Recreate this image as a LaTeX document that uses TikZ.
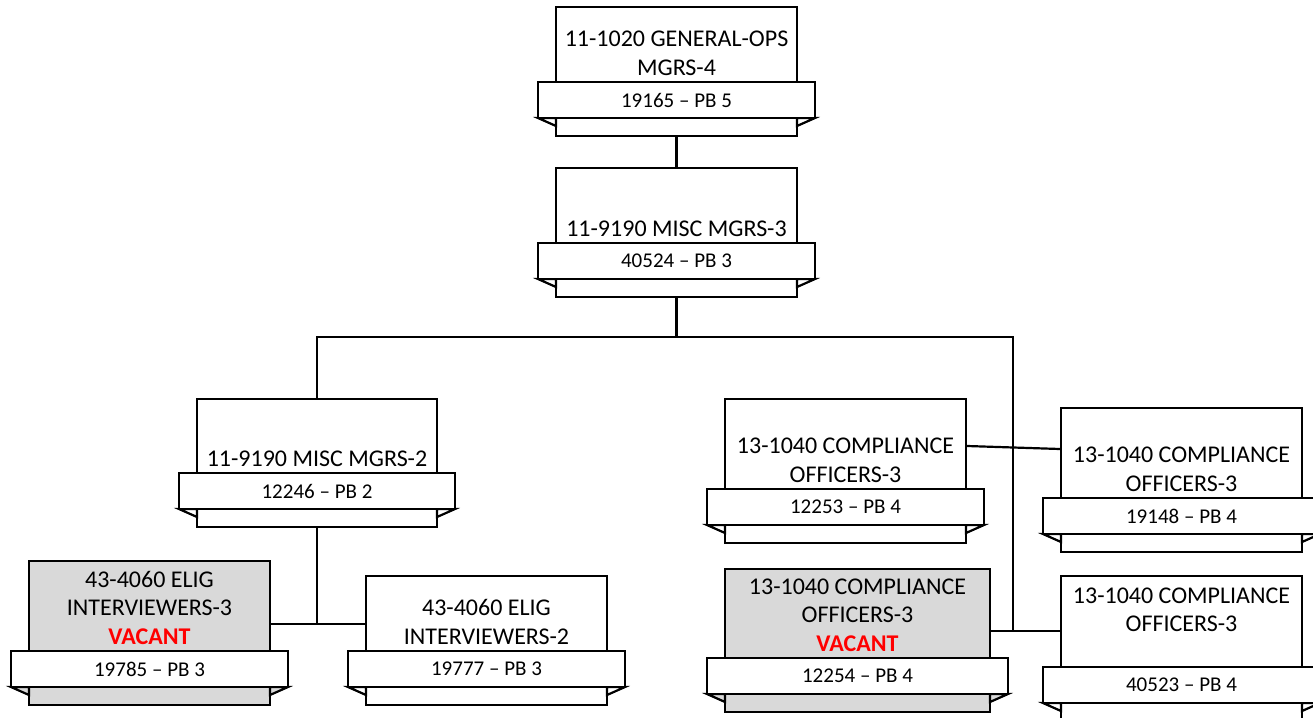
\documentclass[tikz,border=0pt]{standalone}
\usepackage{fontspec}
\setmainfont{Carlito}
\usetikzlibrary{positioning, calc}

\definecolor{vacantgray}{RGB}{217,217,217}
\definecolor{vacantred}{RGB}{255,0,0}

% position box: name, left, top, right, bottom, box style, title, band text
\newcommand{\orgpos}[8]{%
  \node[#6, inner sep=0pt, minimum width={(#4-#2)*1pt}, minimum height={(#5-#3)*1pt}] (#1) at ({(#2+#4)/2}, {(#3+#5)/2}) {};
  \draw[#6] ({#2-18}, {#5-18}) -- (#2, {#5-10}) -- (#2, {#5-18}) -- cycle;
  \draw[#6] ({#4+18}, {#5-18}) -- (#4, {#5-10}) -- (#4, {#5-18}) -- cycle;
  \node[band, minimum width={(#4-#2+36)*1pt}] (#1band) at ({(#2+#4)/2}, {#5-36}) {#8};
  \node[title] (#1title) at ({(#2+#4)/2}, {#5-54}) {#7};
}
\newcommand{\vacant}{\textcolor{vacantred}{\textbf{VACANT}}}

\begin{document}
\begin{tikzpicture}[x=1pt, y=-1pt,
    post/.style={draw, line width=2.2pt, fill=white},
    vacantpost/.style={post, fill=vacantgray},
    band/.style={draw, line width=2.2pt, fill=white, minimum height=36pt, inner sep=0pt, font=\fontsize{21}{25}\selectfont},
    title/.style={align=center, anchor=south, inner xsep=0pt, inner ysep=6.5pt, text depth=0pt, font=\fontsize{24}{28.5}\selectfont},
    link/.style={line width=2.2pt}]
  \useasboundingbox (0,0) rectangle (1313,717);

  % top of the chart
  \orgpos{gen}{556}{7}{797}{136}{post}{11-1020 GENERAL-OPS\\MGRS-4}{19165 -- PB 5}
  \orgpos{misc3}{556}{168}{797}{297}{post}{11-9190 MISC MGRS-3}{40524 -- PB 3}

  % left branch
  \orgpos{misc2}{197}{399}{437}{527}{post}{11-9190 MISC MGRS-2}{12246 -- PB 2}
  \orgpos{elig3}{29}{561}{270}{705}{vacantpost}{43-4060 ELIG\\INTERVIEWERS-3\\\vacant}{19785 -- PB 3}
  \orgpos{elig2}{366}{576}{607}{705}{post}{43-4060 ELIG\\INTERVIEWERS-2}{19777 -- PB 3}

  % right branch
  \orgpos{comp1}{725}{399}{966}{543}{post}{13-1040 COMPLIANCE\\OFFICERS-3}{12253 -- PB 4}
  \orgpos{comp2}{1061}{408}{1302}{552}{post}{13-1040 COMPLIANCE\\OFFICERS-3}{19148 -- PB 4}
  \orgpos{comp4}{725}{569}{990}{712}{vacantpost}{13-1040 COMPLIANCE\\OFFICERS-3\\\vacant}{12254 -- PB 4}
  \orgpos{comp3}{1061}{576}{1302}{721}{post}{13-1040 COMPLIANCE\\OFFICERS-3\\~}{40523 -- PB 4}

  % connectors
  \coordinate (split) at (676.5,337);
  \coordinate (lbus) at (317,624);
  \coordinate (rbus) at (1013,631);
  \draw[link] (gen.south) -- (misc3.north);
  \draw[link] (misc3.south) -- (split) -| (misc2.north);
  \draw[link] (split) -| (rbus);
  \draw[link] (misc2.south) -- (lbus);
  \draw[link] (elig3.east |- lbus) -- (elig2.west |- lbus);
  \draw[link] (comp4.east |- rbus) -- (comp3.west |- rbus);
  \draw[link] ([yshift=25pt]comp1.east) -- ([yshift=31pt]comp2.west);
\end{tikzpicture}
\end{document}
